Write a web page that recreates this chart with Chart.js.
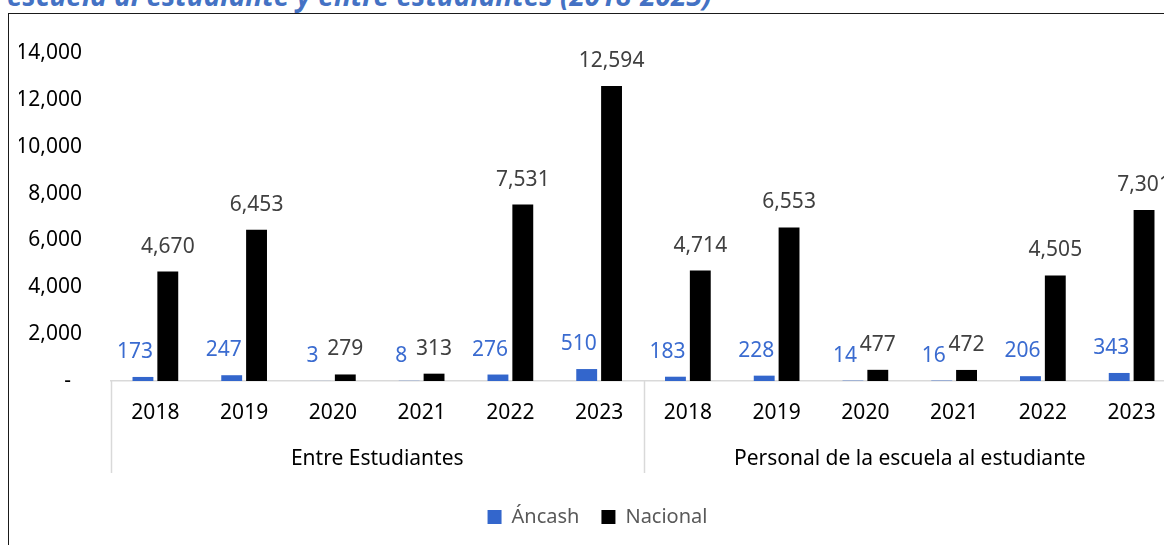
<!doctype html>
<html>
	<head>
		<meta charset="utf-8" />
		<title>Violencia escolar - Áncash y Nacional</title>
		<script src="https://cdn.jsdelivr.net/npm/chart.js@4.4.1/dist/chart.umd.min.js"></script>
		<style>
			html,
			body {
				margin: 0;
				padding: 0;
				overflow: hidden;
				background: #fff;
			}
			#title {
				position: absolute;
				left: 7px;
				top: -24px;
				font: italic bold 28px "Noto Sans", sans-serif;
				color: #4472c4;
				white-space: nowrap;
			}
			#frame {
				position: absolute;
				left: 8px;
				top: 13px;
				width: 1400px;
				height: 700px;
				border-left: 1.5px solid #1a1a1a;
				border-top: 1.5px solid #1a1a1a;
			}
			#wrap {
				position: absolute;
				left: 0;
				top: 0;
				width: 1200px;
				height: 545px;
			}
		</style>
	</head>

	<body>
		<div id="title">escuela al estudiante y entre estudiantes (2018-2023)</div>
		<div id="frame"></div>
		<div id="wrap"><canvas id="chart"></canvas></div>

		<script>
			// data
			const years = ["2018", "2019", "2020", "2021", "2022", "2023"];
			const groups = ["Entre Estudiantes", "Personal de la escuela al estudiante"];
			const ancash = [173, 247, 3, 8, 276, 510, 183, 228, 14, 16, 206, 343];
			const nacional = [4670, 6453, 279, 313, 7531, 12594, 4714, 6553, 477, 472, 4505, 7301];
			const yMax = 14000;
			const yStep = 2000;

			const labels = groups.flatMap(() => years);
			const FONT = "'Noto Sans', sans-serif";

			// value labels above each bar
			const barLabels = {
				id: "barLabels",
				afterDatasetsDraw(chart) {
					const ctx = chart.ctx;
					ctx.save();
					ctx.font = "21px " + FONT;
					ctx.textAlign = "center";
					ctx.textBaseline = "middle";
					chart.data.datasets.forEach((ds, i) => {
						const meta = chart.getDatasetMeta(i);
						ctx.fillStyle = ds.labelColor;
						meta.data.forEach((bar, j) => {
							ctx.fillText(
								ds.data[j].toLocaleString("en-US"),
								bar.x + ds.labelShift,
								bar.y - 25,
							);
						});
					});
					ctx.restore();
				},
			};

			// vertical separators of the two-level category axis
			const groupLines = {
				id: "groupLines",
				afterDraw(chart) {
					const x = chart.scales.x;
					const x2 = chart.scales.x2;
					const ctx = chart.ctx;
					ctx.save();
					ctx.strokeStyle = "#d9d9d9";
					ctx.lineWidth = 1.5;
					[-0.5, 5.5, 11.5].forEach((v) => {
						const px = Math.round(x.getPixelForValue(v)) + 0.5;
						ctx.beginPath();
						ctx.moveTo(px, x.top);
						ctx.lineTo(px, x2.top + 48);
						ctx.stroke();
					});
					ctx.restore();
				},
			};

			new Chart(document.getElementById("chart"), {
				type: "bar",
				data: {
					labels: labels,
					datasets: [
						{
							label: "Áncash",
							data: ancash,
							backgroundColor: "#3366cc",
							labelColor: "#3a6bd0",
							labelShift: -8,
						},
						{
							label: "Nacional",
							data: nacional,
							backgroundColor: "#000000",
							labelColor: "#404040",
							labelShift: 0,
						},
					],
				},
				options: {
					responsive: true,
					maintainAspectRatio: false,
					animation: false,
					categoryPercentage: 0.56,
					barPercentage: 0.84,
					layout: { padding: { top: 53, right: 24, left: 19, bottom: 8 } },
					plugins: {
						tooltip: { enabled: false },
						legend: {
							position: "bottom",
							labels: {
								boxWidth: 14,
								boxHeight: 14,
								padding: 22,
								color: "#595959",
								font: { family: FONT, size: 20 },
							},
						},
					},
					scales: {
						y: {
							min: 0,
							max: yMax,
							grid: { display: false, drawTicks: false },
							border: { display: false },
							ticks: {
								stepSize: yStep,
								padding: 29,
								color: "#000",
								font: { family: FONT, size: 21 },
								callback: (v) => (v === 0 ? "-  " : v.toLocaleString("en-US")),
							},
							afterFit(scale) {
								scale.width = 92;
							},
						},
						x: {
							grid: { display: false, drawTicks: false },
							border: { display: true, color: "#d9d9d9", width: 1.5 },
							ticks: {
								padding: 19,
								color: "#000",
								font: { family: FONT, size: 21 },
								maxRotation: 0,
								autoSkip: false,
							},
							afterFit(scale) {
								scale.height = 44;
							},
						},
						x2: {
							type: "category",
							labels: groups,
							position: "bottom",
							offset: true,
							grid: { display: false, drawTicks: false },
							border: { display: false },
							ticks: {
								padding: 21,
								color: "#000",
								font: { family: FONT, size: 21 },
								maxRotation: 0,
							},
							afterFit(scale) {
								scale.height = 60;
							},
						},
					},
				},
				plugins: [barLabels, groupLines],
			});
		</script>
	</body>
</html>
